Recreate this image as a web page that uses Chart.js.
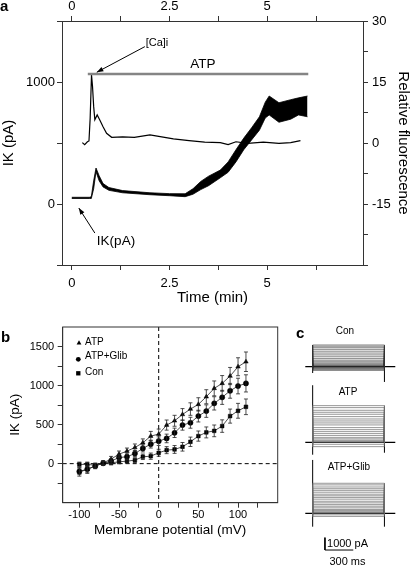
<!DOCTYPE html>
<html>
<head>
<meta charset="utf-8">
<script src="https://cdn.jsdelivr.net/npm/chart.js@4.4.1/dist/chart.umd.min.js"></script>
<style>
  body { margin: 0; background: #fff; }
  #fig { position: relative; width: 412px; height: 566px; overflow: hidden; background: #fff;
         font-family: 'Liberation Sans', Arial, sans-serif; color: #000; }
  canvas { position: absolute; }
  .t { position: absolute; white-space: nowrap; transform: translate(-50%, -50%); line-height: 1; }
  .lbl { position: absolute; font-weight: bold; font-size: 15px; line-height: 1; }
</style>
</head>
<body>
<div id="fig">
  <canvas id="chartA" width="412" height="310" style="left:0;top:0"></canvas>
  <canvas id="chartB" width="290" height="235" style="left:0;top:310px"></canvas>
  <canvas id="chartCon" width="122" height="48" style="left:290px;top:336px"></canvas>
  <canvas id="chartAtp" width="122" height="72" style="left:290px;top:384px"></canvas>
  <canvas id="chartGlib" width="122" height="110" style="left:290px;top:456px"></canvas>

  <div class="lbl" style="left:0;top:-2px">a</div>
  <div class="lbl" style="left:1px;top:329px">b</div>
  <div class="lbl" style="left:296px;top:325px">c</div>

  <div class="t" style="left:157px;top:42px;font-size:11px">[Ca]i</div>
  <div class="t" style="left:203px;top:64px;font-size:13.5px">ATP</div>
  <div class="t" style="left:116px;top:241px;font-size:13.5px">IK(pA)</div>

  <div class="t" style="left:345px;top:331px;font-size:10px">Con</div>
  <div class="t" style="left:348px;top:392px;font-size:10px">ATP</div>
  <div class="t" style="left:349px;top:467px;font-size:10px">ATP+Glib</div>
  <div class="t" style="left:347.5px;top:543px;font-size:11px">1000 pA</div>
  <div class="t" style="left:347.5px;top:560.5px;font-size:11px">300 ms</div>
</div>

<script>
Chart.defaults.font.family = "'Liberation Sans', Arial, sans-serif";
Chart.defaults.color = '#000';
Chart.defaults.animation = false;

// ---- panel a: time course ----
const caTime  = [0.27, 0.33, 0.40, 0.44, 0.47, 0.505, 0.53, 0.56, 0.59, 0.65, 0.72, 0.80, 0.89, 1.02, 1.3, 1.6, 2.0, 2.3, 2.6, 3.0, 3.4, 3.8, 4.0, 4.2, 4.5, 4.9, 5.3, 5.6, 5.85];
const caFluor = [0.1, -0.4, 0.3, 0.5, 6.0, 16.7, 14.0, 9.0, 5.7, 6.9, 5.6, 4.0, 2.4, 1.4, 1.5, 1.4, 2.0, 1.5, 1.0, 0.6, 0.2, 0.1, -0.4, 0.3, -0.1, 0.2, -0.1, 0.1, 0.6];

const ikTime = [0, 0.45, 0.50, 0.56, 0.62, 0.70, 0.80, 0.95, 1.3, 2.0, 2.5, 2.9, 3.1, 3.3, 3.5, 3.8, 4.0, 4.2, 4.4, 4.6, 4.8, 4.95, 5.05, 5.3, 5.6, 5.8, 6.03];
const ikHigh = [55, 55, 60, 190, 295, 232, 168, 135, 110, 92, 85, 84, 125, 185, 228, 278, 345, 445, 540, 625, 715, 835, 885, 830, 855, 870, 885];
const ikLow  = [45, 45, 45, 125, 265, 190, 140, 112, 92, 76, 68, 60, 80, 118, 150, 215, 260, 345, 445, 525, 605, 705, 730, 670, 695, 730, 715];

const atpBarTime  = [0.41, 6.05];
const atpBarLevel = [1066, 1066];

const caArrow = [[1.87, 1290], [0.64, 1080]];
const ikArrow = [[0.59, -238], [0.18, -33]];

const timeTicks  = [0, 1.25, 2.5, 3.75, 5, 6.25];
const timeLabels = [0, 2.5, 5];
const ikTicksA   = [-500, 0, 500, 1000, 1500];
const ikLabelsA  = [0, 1000];
const fluorTicks  = [-30, -22.5, -15, -7.5, 0, 7.5, 15, 22.5, 30];
const fluorLabels = [-15, 0, 15, 30];

// ---- panel b: I-V relation ----
const voltages = [-100, -90, -80, -70, -60, -50, -40, -30, -20, -10, 0, 10, 20, 30, 40, 50, 60, 70, 80, 90, 100, 110];
const ivATP  = [-105, -75, -30, 10, 58, 122, 160, 207, 267, 353, 378, 494, 549, 630, 699, 759, 857, 964, 1028, 1122, 1241, 1305];
const ivGlib = [-100, -70, -30, 5, 32, 79, 88, 130, 195, 250, 288, 323, 395, 494, 524, 609, 673, 772, 849, 933, 994, 1028];
const ivCon  = [-10, -10, -20, 10, 10, 24, 32, 45, 88, 96, 139, 173, 182, 216, 280, 353, 400, 420, 481, 609, 677, 728];
const errATP  = [55, 50, 35, 30, 35, 40, 40, 45, 50, 60, 65, 65, 70, 75, 80, 85, 90, 95, 100, 110, 115, 125];
const errGlib = [40, 40, 30, 25, 30, 35, 35, 40, 45, 50, 55, 55, 60, 65, 70, 75, 80, 85, 90, 95, 100, 110];
const errCon  = [30, 30, 25, 20, 25, 25, 25, 30, 35, 40, 45, 45, 50, 55, 60, 65, 70, 75, 80, 90, 95, 100];

const vTicks  = [-100, -75, -50, -25, 0, 25, 50, 75, 100, 125];
const vLabels = [-100, -50, 0, 50, 100];
const ikTicksB  = [-250, 0, 250, 500, 750, 1000, 1250, 1500];
const ikLabelsB = [0, 500, 1000, 1500];

// ---- panel c: current families (pA levels during the step) ----
const pulseOn = 0, pulseOff = 760;
const baseStart = -78, baseEnd = 875;
const levelsCon  = [-300, -220, -150, -90, -40, 0, 40, 90, 150, 220, 300, 400, 520, 650, 800, 950, 1100, 1250, 1400, 1530, 1650, 1750];
const levelsATP  = [-350, -160, 0, 80, 160, 270, 375, 540, 700, 860, 1020, 1185, 1400, 1560, 1720, 1880, 2070, 2260, 2420, 2580, 2795, 2955];
const levelsGlib = [-250, -120, 0, 60, 130, 220, 310, 440, 570, 700, 840, 970, 1140, 1280, 1410, 1540, 1700, 1850, 1980, 2120, 2290, 2420];
const spikesCon  = [[pulseOn, -510, 1750], [pulseOff, -1230, 0]];
const spikesATP  = [[pulseOn, -1000, 4600], [pulseOff, -840, 0]];
const spikesGlib = [[pulseOn, -1080, 4300], [pulseOff, -1080, 0]];
const scaleBarX = [130, 130, 430];
const scaleBarY = [-1960, -2960, -2960];

const pts = (xs, ys) => xs.map((x, i) => ({ x: x, y: ys[i] }));

function axis(position, min, max, tickVals, labelVals, size, fontSize, pad) {
  return {
    type: 'linear', position: position, min: min, max: max, bounds: 'data',
    afterBuildTicks: s => { s.ticks = tickVals.map(v => ({ value: v })); },
    afterFit: s => {
      if (position === 'left' || position === 'right') s.width = size; else s.height = size;
    },
    ticks: {
      autoSkip: false, maxRotation: 0, padding: pad, font: { size: fontSize },
      callback: v => labelVals.includes(v) ? String(v) : ''
    },
    grid: { drawOnChartArea: false, tickLength: 5, color: '#333' },
    border: { color: '#333', width: 1 }
  };
}

function drawArrow(ctx, x0, y0, x1, y1) {
  const ang = Math.atan2(y1 - y0, x1 - x0), h = 7;
  ctx.beginPath(); ctx.moveTo(x0, y0); ctx.lineTo(x1, y1); ctx.stroke();
  ctx.beginPath(); ctx.moveTo(x1, y1);
  ctx.lineTo(x1 - h * Math.cos(ang - 0.35), y1 - h * Math.sin(ang - 0.35));
  ctx.lineTo(x1 - h * Math.cos(ang + 0.35), y1 - h * Math.sin(ang + 0.35));
  ctx.closePath(); ctx.fill();
}

const arrows = {
  id: 'arrows',
  afterDatasetsDraw(chart) {
    const { ctx, scales: { x, yI } } = chart;
    ctx.save();
    ctx.strokeStyle = '#000'; ctx.fillStyle = '#000'; ctx.lineWidth = 1;
    [caArrow, ikArrow].forEach(a => {
      drawArrow(ctx, x.getPixelForValue(a[0][0]), yI.getPixelForValue(a[0][1]),
                     x.getPixelForValue(a[1][0]), yI.getPixelForValue(a[1][1]));
    });
    ctx.restore();
  }
};

const axA = axis('bottom', -0.25, 7.45, timeTicks, timeLabels, 45, 13, 5.5);
axA.title = { display: true, text: 'Time (min)', font: { size: 15 }, padding: { top: 0, bottom: 3 } };
const axATop = axis('top', -0.25, 7.45, timeTicks, timeLabels, 21, 13, 2.2);
axATop.axis = 'x';
const axI = axis('left', -500, 1500, ikTicksA, ikLabelsA, 62, 13, 2);
axI.axis = 'y';
axI.title = { display: true, text: 'IK (pA)', font: { size: 15 }, padding: { top: 0, bottom: 0 } };
const axF = axis('right', -30, 30, fluorTicks, fluorLabels, 49, 13, 4);
axF.axis = 'y';
axF.title = { display: true, text: 'Relative fluorescence', font: { size: 15 }, padding: { top: 0, bottom: 0 } };

new Chart(document.getElementById('chartA'), {
  type: 'line',
  data: {
    datasets: [
      { label: 'ATP', data: pts(atpBarTime, atpBarLevel), yAxisID: 'yI',
        borderColor: '#858585', borderWidth: 2.5, pointRadius: 0 },
      { label: '[Ca]i', data: pts(caTime, caFluor), yAxisID: 'yF',
        borderColor: '#000', borderWidth: 1.2, pointRadius: 0 },
      { label: 'IK low', data: pts(ikTime, ikLow), yAxisID: 'yI',
        borderColor: '#000', borderWidth: 0.8, pointRadius: 0, fill: false },
      { label: 'IK high', data: pts(ikTime, ikHigh), yAxisID: 'yI',
        borderColor: '#000', backgroundColor: '#000', borderWidth: 0.8, pointRadius: 0, fill: '-1' }
    ]
  },
  options: {
    responsive: false,
    devicePixelRatio: 1,
    layout: { padding: 0 },
    scales: { x: axA, xTop: axATop, yI: axI, yF: axF },
    plugins: { legend: { display: false }, tooltip: { enabled: false } }
  },
  plugins: [arrows]
});

// ---- panel b ----
function drawMarker(ctx, style, x, y, r) {
  ctx.beginPath();
  if (style === 'triangle') {
    ctx.moveTo(x, y - r * 1.15); ctx.lineTo(x + r, y + r * 0.6); ctx.lineTo(x - r, y + r * 0.6); ctx.closePath();
  } else if (style === 'rect') {
    ctx.rect(x - r * 0.9, y - r * 0.9, r * 1.8, r * 1.8);
  } else {
    ctx.arc(x, y, r, 0, Math.PI * 2);
  }
  ctx.fill();
}

const ivDecor = {
  id: 'ivDecor',
  beforeDatasetsDraw(chart) {
    const { ctx, chartArea: a, scales: { x, y } } = chart;
    ctx.save();
    ctx.strokeStyle = '#000'; ctx.lineWidth = 1; ctx.setLineDash([4, 3]);
    const x0 = x.getPixelForValue(0), y0 = y.getPixelForValue(0);
    ctx.beginPath();
    ctx.moveTo(x0, a.top); ctx.lineTo(x0, a.bottom);
    ctx.moveTo(a.left, y0); ctx.lineTo(a.right, y0);
    ctx.stroke();
    ctx.setLineDash([]);
    ctx.strokeStyle = '#333';
    ctx.strokeRect(a.left, a.top, a.right - a.left, a.bottom - a.top);
    ctx.restore();
  },
  afterDatasetsDraw(chart) {
    const { ctx, chartArea: a, scales: { x, y } } = chart;
    ctx.save();
    ctx.strokeStyle = '#222'; ctx.lineWidth = 0.8;
    chart.data.datasets.forEach(ds => {
      ds.data.forEach((p, i) => {
        const px = x.getPixelForValue(p.x);
        const top = y.getPixelForValue(p.y + ds.errors[i]);
        const bot = y.getPixelForValue(p.y - ds.errors[i]);
        ctx.beginPath();
        ctx.moveTo(px, top); ctx.lineTo(px, bot);
        ctx.moveTo(px - 2, top); ctx.lineTo(px + 2, top);
        ctx.moveTo(px - 2, bot); ctx.lineTo(px + 2, bot);
        ctx.stroke();
      });
    });
    // legend
    ctx.fillStyle = '#000';
    ctx.font = "10px 'Liberation Sans', Arial, sans-serif";
    ctx.textBaseline = 'middle';
    const rows = [[16.3, 16, 15.7], [15.6, 32.3, 29], [15.6, 46.3, 45.7]];
    chart.data.datasets.forEach((ds, i) => {
      drawMarker(ctx, ds.pointStyle, a.left + rows[i][0], a.top + rows[i][1], 2.4);
      ctx.fillText(ds.label, a.left + 22.3, a.top + rows[i][2]);
    });
    ctx.restore();
  }
};

const axV = axis('bottom', -121, 150, vTicks, vLabels, 42.3, 11, 1);
axV.title = { display: true, text: 'Membrane potential (mV)', font: { size: 13.5 }, padding: { top: 0, bottom: 7 } };
const axIB = axis('left', -500, 1750, ikTicksB, ikLabelsB, 62.7, 11, 3.5);
axIB.title = { display: true, text: 'IK (pA)', font: { size: 13.5 }, padding: { top: 7, bottom: 0 } };

function ivSet(label, ys, errs, style) {
  return {
    label: label, data: pts(voltages, ys), errors: errs,
    pointStyle: style, pointRadius: 2.6, pointBorderWidth: 0.5,
    pointBackgroundColor: '#000', pointBorderColor: '#000',
    borderColor: '#222', borderWidth: 0.8, showLine: true
  };
}

new Chart(document.getElementById('chartB'), {
  type: 'line',
  data: {
    datasets: [
      ivSet('ATP', ivATP, errATP, 'triangle'),
      ivSet('ATP+Glib', ivGlib, errGlib, 'circle'),
      ivSet('Con', ivCon, errCon, 'rect')
    ]
  },
  options: {
    responsive: false,
    devicePixelRatio: 1,
    layout: { padding: { top: 17, right: 12.3, left: 0, bottom: 0 } },
    scales: { x: axV, y: axIB },
    plugins: { legend: { display: false }, tooltip: { enabled: false } }
  },
  plugins: [ivDecor]
});

// ---- panel c ----
function traceChart(id, levels, spikes, yMin, yMax, traceColor, traceWidth, extra) {
  const traces = [];
  levels.forEach(L => {
    traces.push({ x: pulseOn, y: 0 }, { x: pulseOn, y: L }, { x: pulseOff, y: L },
                { x: pulseOff, y: 0 }, { x: pulseOff, y: null });
  });
  const spikePts = [];
  spikes.forEach(s => { spikePts.push({ x: s[0], y: s[1] }, { x: s[0], y: s[2] }, { x: s[0], y: null }); });
  const datasets = [
    { label: 'traces', data: traces, borderColor: traceColor, borderWidth: traceWidth, pointRadius: 0, spanGaps: false },
    { label: 'baseline', data: [{ x: baseStart, y: 0 }, { x: baseEnd, y: 0 }], borderColor: '#000', borderWidth: 1.3, pointRadius: 0 },
    { label: 'transients', data: spikePts, borderColor: '#000', borderWidth: 1, pointRadius: 0, spanGaps: false }
  ];
  if (extra) datasets.push(extra);
  new Chart(document.getElementById(id), {
    type: 'line',
    data: { datasets: datasets },
    options: {
      responsive: false,
      devicePixelRatio: 1,
      layout: { padding: 0 },
      scales: {
        x: { type: 'linear', display: false, min: -240, max: 1052, bounds: 'data' },
        y: { type: 'linear', display: false, min: yMin, max: yMax, bounds: 'data' }
      },
      plugins: { legend: { display: false }, tooltip: { enabled: false } }
    }
  });
}

traceChart('chartCon', levelsCon, spikesCon, -1394, 2474, '#333', 0.6);
traceChart('chartAtp', levelsATP, spikesATP, -1104, 4699, '#6a6a6a', 0.7);
traceChart('chartGlib', levelsGlib, spikesGlib, -4248, 4618, '#6a6a6a', 0.7,
  { label: 'scale bar', data: pts(scaleBarX, scaleBarY), borderColor: '#000', borderWidth: 1, pointRadius: 0 });
</script>
</body>
</html>
